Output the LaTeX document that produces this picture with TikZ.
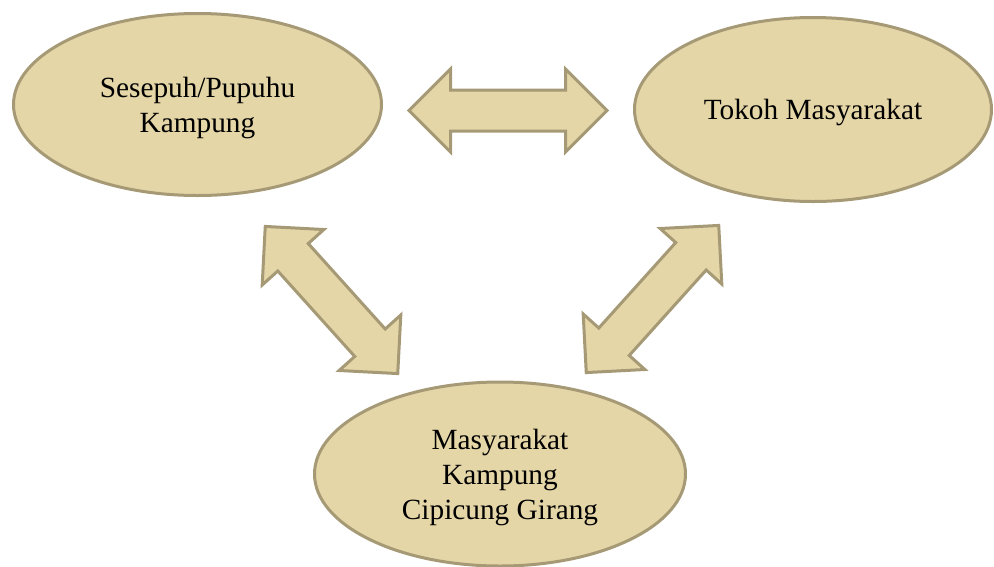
\documentclass[tikz,border=0pt]{standalone}
\usepackage{fontspec}
\setmainfont{Liberation Serif}
\usetikzlibrary{shapes.geometric,shapes.arrows}
\definecolor{tanfill}{RGB}{229,214,167}
\definecolor{tanline}{RGB}{166,154,118}

\begin{document}
\begin{tikzpicture}[x=1pt,y=-1pt]
\tikzstyle{every node}+=[font=\fontsize{29.3}{35}\selectfont]
\tikzstyle{actor}=[ellipse, draw=tanline, fill=tanfill, line width=3pt, align=center, inner sep=0pt, text depth=0pt]
\tikzstyle{link}=[double arrow, draw=tanline, fill=tanfill, line width=3pt, inner sep=19pt, double arrow head extend=21pt, double arrow tip angle=90, minimum height=198pt, minimum width=80pt]
\useasboundingbox (0,0) rectangle (994,566);
\clip (0,0) rectangle (994,566);
% the three groups
\node [actor, minimum width=368pt, minimum height=182pt] (sesepuh) at (197.5,104.5) {Sesepuh/Pupuhu\\Kampung};
\node [actor, minimum width=357pt, minimum height=184pt] (tokoh) at (813,109.5) {Tokoh Masyarakat};
\node [actor, minimum width=371pt, minimum height=184pt] (warga) at (500,474) {Masyarakat\\Kampung\\Cipicung Girang};
% the links between them
\node [link] (sesepuh-tokoh) at (508,110.5) {};
\node [link, rotate=-48] (sesepuh-warga) at (331.5,300) {};
\node [link, rotate=48] (tokoh-warga) at (652.5,299) {};
\end{tikzpicture}
\end{document}
